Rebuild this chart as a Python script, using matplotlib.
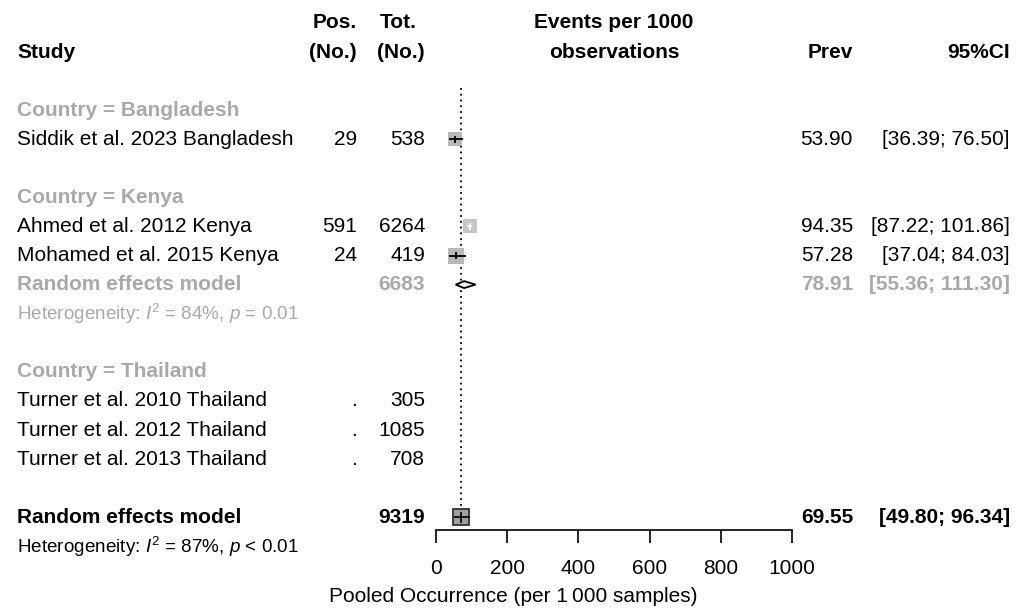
import numpy as np
import matplotlib
matplotlib.use("Agg")
import matplotlib.pyplot as plt
from matplotlib import transforms

plt.rcParams["font.family"] = ["Liberation Sans", "DejaVu Sans"]
plt.rcParams["mathtext.fontset"] = "custom"
plt.rcParams["mathtext.rm"] = "Liberation Sans"
plt.rcParams["mathtext.it"] = "Liberation Sans:italic"

# study level data
studies = ["Siddik et al. 2023 Bangladesh", "Ahmed et al. 2012 Kenya",
           "Mohamed et al. 2015 Kenya", "Turner et al. 2010 Thailand",
           "Turner et al. 2012 Thailand", "Turner et al. 2013 Thailand"]
study_rows = [1, 4, 5, 10, 11, 12]
events = [29, 591, 24, None, None, None]
totals = [538, 6264, 419, 305, 1085, 708]
prev = [53.90, 94.35, 57.28, None, None, None]
lower = [36.39, 87.22, 37.04, None, None, None]
upper = [76.50, 101.86, 84.03, None, None, None]
weights = [29.7, 34.0, 36.3, None, None, None]

# subgroups
groups = ["Bangladesh", "Kenya", "Thailand"]
group_rows = [0, 3, 9]

# Kenya random effects model
kenya_total = 6683
kenya_prev, kenya_lo, kenya_hi = 78.91, 55.36, 111.30
kenya_i2, kenya_p = 84, "= 0.01"

# overall random effects model
all_total = 9319
all_prev, all_lo, all_hi = 69.55, 49.80, 96.34
all_i2, all_p = 87, "< 0.01"

xticks = [0, 200, 400, 600, 800, 1000]

W, H = 1027, 609
ROW0, ROWH = 110, 29.1
FS = 15
GREY = "#a9a9a9"

# column anchors (pixels from the left)
X_STUDY, X_POS, X_TOT, X_PREV, X_CI = 17, 357, 425, 853, 1010

fig = plt.figure(figsize=(W / 100, H / 100), dpi=100)
ax = fig.add_axes([436 / W, 0, 356 / W, 1])
ax.set_xlim(0, 1000)
ax.set_ylim((H - ROW0) / ROWH, -ROW0 / ROWH)
for s in ["top", "left", "right"]:
    ax.spines[s].set_visible(False)
ax.patch.set_visible(False)
ax.set_yticks([])

axis_row = (530 - ROW0) / ROWH
ax.spines["bottom"].set_position(("data", axis_row))
ax.spines["bottom"].set_linewidth(1.2)
ax.set_xticks(xticks)
ax.set_xticklabels([str(t) for t in xticks])
ax.tick_params(axis="x", direction="out", length=9, width=1.2, pad=12,
               labelsize=FS)
ax.set_xlabel("Pooled Occurrence (per 1\u2009000 samples)", fontsize=FS)
ax.xaxis.set_label_coords(0.5, (H - 597) / H, transform=fig.transFigure)
ax.xaxis.label.set_va("center")

blend = transforms.blended_transform_factory(fig.transFigure, ax.transData)


def put(xpx, row, s, ha="left", color="black", weight="normal", size=FS):
    ax.text(xpx / W, row, s, transform=blend, ha=ha, va="center",
            color=color, fontweight=weight, fontsize=size)


def hdr_row(px):
    return (px - ROW0) / ROWH


# header
put(X_STUDY, hdr_row(52), "Study", weight="bold")
put(X_POS, hdr_row(22), "Pos.", ha="right", weight="bold")
put(X_POS, hdr_row(52), "(No.)", ha="right", weight="bold")
put(X_TOT - 8, hdr_row(22), "Tot.", ha="right", weight="bold")
put(X_TOT, hdr_row(52), "(No.)", ha="right", weight="bold")
put(614, hdr_row(22), "Events per 1000", ha="center", weight="bold")
put(614, hdr_row(52), "observations", ha="center", weight="bold")
put(X_PREV, hdr_row(52), "Prev", ha="right", weight="bold")
put(X_CI, hdr_row(52), "95%CI", ha="right", weight="bold")

# reference line at the pooled estimate
ax.vlines(all_prev, -0.75, 14 - 0.3, colors="black", linestyles=(0, (1, 2.2)),
          linewidth=1.3)

# subgroup titles
for g, r in zip(groups, group_rows):
    put(X_STUDY, r, "Country = " + g, color=GREY, weight="bold")

# studies
for i, name in enumerate(studies):
    r = study_rows[i]
    put(X_STUDY, r, name)
    put(X_POS, r, str(events[i]) if events[i] is not None else ".", ha="right")
    put(X_TOT, r, str(totals[i]), ha="right")
    if prev[i] is None:
        continue
    put(X_PREV, r, "%.2f" % prev[i], ha="right")
    put(X_CI, r, "[%.2f; %.2f]" % (lower[i], upper[i]), ha="right")
    side = 2.57 * np.sqrt(weights[i])
    # CI shorter than the square: draw it white on a lighter box
    inside = (upper[i] - lower[i]) / 1000 * 356 < side
    ax.plot(prev[i], r, marker="s", ms=side * 0.72, mew=0,
            color="#c6c6c6" if inside else "#b8b8b8", zorder=3)
    ax.hlines(r, lower[i], upper[i], colors="white" if inside else "black",
              linewidth=1.3, zorder=4)
    ax.vlines(prev[i], r - 0.12, r + 0.12,
              colors="white" if inside else "black", linewidth=1.3, zorder=4)

# Kenya random effects model
put(X_STUDY, 6, "Random effects model", color=GREY, weight="bold")
put(X_TOT, 6, str(kenya_total), ha="right", color=GREY, weight="bold")
put(X_PREV, 6, "%.2f" % kenya_prev, ha="right", color=GREY, weight="bold")
put(X_CI, 6, "[%.2f; %.2f]" % (kenya_lo, kenya_hi), ha="right", color=GREY,
    weight="bold")
put(X_STUDY, 7, r"Heterogeneity: $I^2$ = %d%%, $p$ %s" % (kenya_i2, kenya_p),
    color=GREY, size=13.6)
ax.fill([kenya_lo, kenya_prev, kenya_hi, kenya_prev],
        [6, 6 - 0.12, 6, 6 + 0.12], facecolor="#f4f4f4", edgecolor="black",
        linewidth=1.3, zorder=3)

# overall random effects model
put(X_STUDY, 14, "Random effects model", weight="bold")
put(X_TOT, 14, str(all_total), ha="right", weight="bold")
put(X_PREV, 14, "%.2f" % all_prev, ha="right", weight="bold")
put(X_CI, 14, "[%.2f; %.2f]" % (all_lo, all_hi), ha="right", weight="bold")
put(X_STUDY, 15, r"Heterogeneity: $I^2$ = %d%%, $p$ %s" % (all_i2, all_p),
    size=13.6)
ax.plot(all_prev, 14, marker="s", ms=11.5, mfc="#9f9f9f", mec="#333333",
        mew=1.3, zorder=3)
ax.hlines(14, all_lo, all_hi, colors="black", linewidth=1.2, zorder=4)
ax.vlines(all_prev, 14 - 0.2, 14 + 0.2, colors="black", linewidth=1.2, zorder=4)

fig.savefig("out.png", dpi=100, facecolor="white")
